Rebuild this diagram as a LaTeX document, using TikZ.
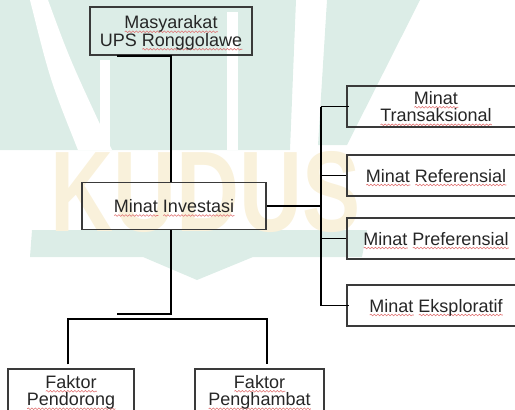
\documentclass[tikz,border=0pt]{standalone}
\usepackage{fontspec}
\setmainfont{Liberation Sans}
\usetikzlibrary{calc,decorations.pathmorphing}
\definecolor{wmteal}{HTML}{DCEDE7}
\definecolor{wmyellow}{HTML}{F9F1DB}
\definecolor{sqred}{HTML}{E07070}
\definecolor{boxline}{HTML}{3A3A3A}
\definecolor{txt}{HTML}{262626}
\newsavebox\sqbox
\newcommand\sq[1]{\sbox\sqbox{#1}\rlap{\tikz[baseline=0pt]\draw[sqred, line width=0.6pt,
  decorate, decoration={snake, amplitude=0.8pt, segment length=3.5pt}]
  (0pt,-3pt) -- (\wd\sqbox,-3pt);}#1}
\begin{document}
\begin{tikzpicture}[x=1pt,y=-1pt,
  box/.style={draw=boxline, line width=1.2pt, inner sep=0pt, align=center, text=txt,
    text depth=0pt, font=\fontsize{18}{17.5}\selectfont},
  conn/.style={draw=black, line width=1.8pt},
  wm/.style={fill=wmteal, draw=none}]
\useasboundingbox (0,0) rectangle (515,410);
% watermark
\fill[wm] (0,0) -- (296,0) -- (290,150) -- (0,150) -- cycle;
\fill[white] (30,0) -- (48,0) .. controls (70,60) .. (112,150) -- (78,150) .. controls (50,80) .. (30,0) -- cycle;
\fill[white] (100,60) rectangle (110,150);
\fill[white] (227,12) rectangle (238,150);
\fill[wm] (327,0) -- (420,0) -- (347,145) -- (318,145) -- cycle;
\fill[wm] (32,230) -- (367,230) -- (362,257) -- (253,257) -- (197,280) -- (143,257) -- (30,257) -- cycle;
\node[anchor=base west, inner sep=0pt, text=wmyellow] (wmtext) at (50,231)
  {\resizebox{310pt}{80pt}{\bfseries KUDUS}};
% boxes
\node[box, minimum width=162pt, minimum height=48pt] (top) at (171,31)
  {\sq{Masyarakat}\\UPS \sq{Ronggolawe}};
\node[box, minimum width=184pt, minimum height=47pt] (inv) at (174,206)
  {\sq{Minat} \sq{Investasi}};
\node[box, minimum width=178pt, minimum height=41pt] (T) at (436,106.5)
  {\sq{Minat}\\\sq{Transaksional}};
\node[box, minimum width=178pt, minimum height=41pt] (R) at (436,175.5)
  {\sq{Minat} \sq{Referensial}};
\node[box, minimum width=178pt, minimum height=41pt] (P) at (436,238.5)
  {\sq{Minat} \sq{Preferensial}};
\node[box, minimum width=178pt, minimum height=41pt] (E) at (436,305.5)
  {\sq{Minat} \sq{Eksploratif}};
\node[box, minimum width=126pt, minimum height=43pt] (FP) at (71,390.5)
  {\sq{Faktor}\\\sq{Pendorong}};
\node[box, minimum width=129pt, minimum height=43pt] (FH) at (259.5,390.5)
  {\sq{Faktor}\\\sq{Penghambat}};
% connectors
\draw[conn] ([xshift=-54pt]top.south) -- (top.south) -- (top.south |- inv.north);
\coordinate (j) at (171,314);
\draw[conn] (inv.south -| j) -- (j) -- ++(-54,0);
\coordinate (bl) at (68,319);
\coordinate (br) at (267,319);
\coordinate (fpt) at ([yshift=4pt]FP.north);
\coordinate (fht) at ([yshift=4pt]FH.north);
\draw[conn] (fpt -| bl) -- (bl) -- (br) -- (fht -| br);
\coordinate (sp) at (321,207);
\draw[conn] (inv.east) -- (inv.east -| sp);
\draw[conn] (sp |- T.west) -- (sp |- E.west);
\draw[conn] (sp |- T.west) -- ([xshift=3pt]T.west);
\draw[conn] (sp |- R.west) -- (R.west);
\draw[conn] (sp |- P.west) -- (P.west);
\draw[conn] (sp |- E.west) -- ([xshift=3pt]E.west);
\end{tikzpicture}
\end{document}
